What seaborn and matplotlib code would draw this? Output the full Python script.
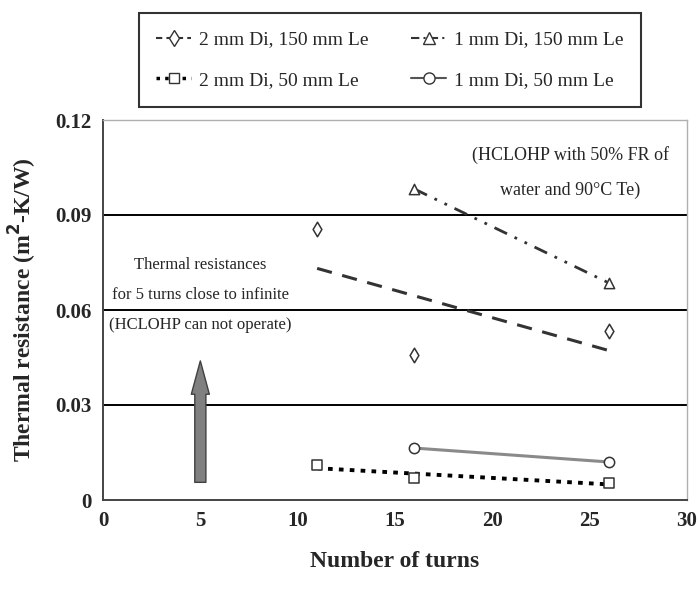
import numpy as np
import pandas as pd
import seaborn as sns
import matplotlib
matplotlib.use("Agg")
import matplotlib.pyplot as plt
from matplotlib.lines import Line2D

# ---- data ----
turns_a = [11, 16, 26]
res_2mm_150 = [0.0856, 0.0458, 0.0534]
turns_b = [16, 26]
res_1mm_150 = [0.0982, 0.0685]
turns_c = [11, 16, 26]
res_2mm_50 = [0.0110, 0.0069, 0.0054]
turns_d = [16, 26]
res_1mm_50 = [0.0164, 0.0120]

labels = ["2 mm Di, 150 mm Le", "1 mm Di, 150 mm Le",
          "2 mm Di, 50 mm Le", "1 mm Di, 50 mm Le"]
xticks = [0, 5, 10, 15, 20, 25, 30]
yticks = [0, 0.03, 0.06, 0.09, 0.12]
ytick_labels = ["0", "0.03", "0.06", "0.09", "0.12"]

sns.set_theme(style="white")
plt.rcParams['font.family'] = ['Liberation Serif', 'DejaVu Serif']

fig = plt.figure(figsize=(6.98, 5.95), dpi=100)
ax = fig.add_axes([103/698, 1-500/595, 584/698, 380/595])

df_a = pd.DataFrame({"x": turns_a, "y": res_2mm_150})
df_b = pd.DataFrame({"x": turns_b, "y": res_1mm_150})
df_c = pd.DataFrame({"x": turns_c, "y": res_2mm_50})
df_d = pd.DataFrame({"x": turns_d, "y": res_1mm_50})

# grid lines
for v in yticks[1:4]:
    ax.axhline(v, color="black", lw=1.4, zorder=1)

# trend lines
sns.regplot(data=df_a, x="x", y="y", scatter=False, ci=None, ax=ax,
            line_kws=dict(color="#333333", lw=2.2, ls=(0, (5, 3.5)), zorder=2))
sns.regplot(data=df_b, x="x", y="y", scatter=False, ci=None, ax=ax,
            line_kws=dict(color="#333333", lw=2.0, ls=(0, (5, 3, 1, 3, 1, 3)), zorder=2))
sns.regplot(data=df_c, x="x", y="y", scatter=False, ci=None, ax=ax,
            line_kws=dict(color="black", lw=2.8, ls=(0, (1.2, 1.6)), zorder=2))
sns.lineplot(data=df_d, x="x", y="y", ax=ax, color="#8a8a8a", lw=2.2, zorder=2)

# markers
mk = dict(facecolor="white", edgecolor="#333333", linewidth=1.1, zorder=3, s=55)
sns.scatterplot(data=df_a, x="x", y="y", marker="d", ax=ax, **mk)
sns.scatterplot(data=df_b, x="x", y="y", marker="^", ax=ax, **mk)
sns.scatterplot(data=df_c, x="x", y="y", marker="s", ax=ax, **mk)
sns.scatterplot(data=df_d, x="x", y="y", marker="o", ax=ax, **mk)

ax.set_xlim(0, 30)
ax.set_ylim(0, 0.12)
ax.set_xticks(xticks)
ax.set_xticklabels([str(t) for t in xticks])
ax.set_yticks(yticks)
ax.set_yticklabels(ytick_labels)
ax.tick_params(axis="both", direction="inout", length=8, width=1.2,
               color="#333333", labelsize=15, pad=4)
for lab in ax.get_xticklabels() + ax.get_yticklabels():
    lab.set_fontweight("bold")

for s in ["left", "bottom"]:
    ax.spines[s].set_color("#444444")
    ax.spines[s].set_linewidth(1.4)
for s in ["top", "right"]:
    ax.spines[s].set_color("#b0b0b0")
    ax.spines[s].set_linewidth(1.0)
    ax.spines[s].set_visible(True)

ax.set_xlabel("Number of turns", fontsize=17, fontweight="bold", labelpad=14)
ax.set_ylabel("Thermal resistance (m$^{\\mathbf{2}}$-K/W)", fontsize=17,
              fontweight="bold", labelpad=12)

# annotations
ax.text(5, 0.0648, "Thermal resistances\nfor 5 turns close to infinite\n(HCLOHP can not operate)",
        ha="center", va="center", fontsize=12, linespacing=2.15, zorder=4)
ax.text(24.0, 0.1034, "(HCLOHP with 50% FR of\nwater and 90°C Te)",
        ha="center", va="center", fontsize=13, linespacing=2.3, zorder=4)
ax.annotate("", xy=(5, 0.0448), xytext=(5, 0.0047),
            arrowprops=dict(arrowstyle="simple,head_length=1.2,head_width=0.65,tail_width=0.4",
                            mutation_scale=20, fc="#808080", ec="#404040", lw=1.0))

# legend
handles = [
    Line2D([], [], color="#333333", ls=(0, (3, 2)), lw=1.5, marker="d",
           mfc="white", mec="#333333", ms=8),
    Line2D([], [], color="black", ls=(0, (1, 1.5)), lw=2.5, marker="s",
           mfc="white", mec="#333333", ms=7),
    Line2D([], [], color="#333333", ls=(0, (4, 2, 1, 2)), lw=1.5, marker="^",
           mfc="white", mec="#333333", ms=8),
    Line2D([], [], color="#555555", ls="-", lw=1.5, marker="o",
           mfc="white", mec="#333333", ms=8),
]
leg_labels = [labels[0], labels[2], labels[1], labels[3]]
leg = fig.legend(handles, leg_labels, ncol=2, loc="center",
                 bbox_to_anchor=(390/698, 1-60/595), frameon=True, fancybox=False,
                 edgecolor="black", fontsize=14, handlelength=1.8, handletextpad=0.4,
                 columnspacing=2.2, borderpad=0.9, labelspacing=1.2)
leg.get_frame().set_linewidth(1.5)

fig.savefig("out.png", dpi=100)
